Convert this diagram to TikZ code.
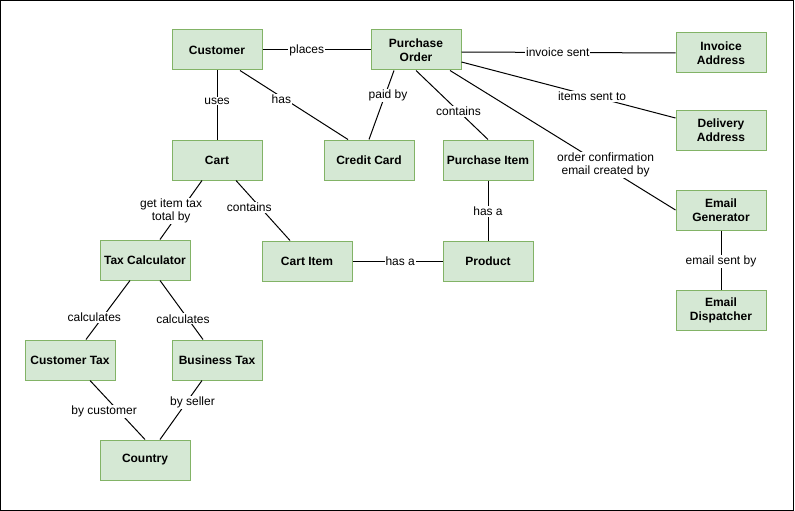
\documentclass[tikz,border=0pt]{standalone}
\usepackage{fontspec}
\setmainfont{Liberation Sans}
\usetikzlibrary{positioning}
\definecolor{boxfill}{HTML}{D5E8D4}
\definecolor{boxline}{HTML}{82B366}
\tikzset{
  entity/.style={draw=boxline, fill=boxfill, line width=1pt,
    minimum width=90pt, minimum height=40pt, inner sep=2pt, align=center,
    font=\fontsize{12}{14}\selectfont\bfseries},
  link/.style={line width=1pt, draw=black},
  rel/.style={fill=white, inner sep=1pt, align=center,
    font=\fontsize{12}{13}\selectfont}
}

\begin{document}
\begin{tikzpicture}[x=1pt,y=-1pt]
        \useasboundingbox (0,0) rectangle (795,511);
        % Frame
        \draw[line width=1pt] (0.5,0.5) rectangle (793.5,510);
        % Entities
        \node[entity] (cust)    at (217,50)  {Customer};
        \node[entity] (po)      at (416,50)  {Purchase\\Order};
        \node[entity] (inv)     at (721,53)  {Invoice\\Address};
        \node[entity] (deliv)   at (721,130) {Delivery\\Address};
        \node[entity] (egen)    at (721,210) {Email\\Generator};
        \node[entity] (edisp)   at (721,310) {Email\\Dispatcher};
        \node[entity] (cart)    at (217,160) {Cart};
        \node[entity] (card)    at (369,160) {Credit Card};
        \node[entity] (pitem)   at (488,160) {Purchase Item};
        \node[entity] (taxcalc) at (145,260) {Tax Calculator};
        \node[entity] (citem)   at (307,261) {Cart Item};
        \node[entity] (prod)    at (488,261) {Product};
        \node[entity] (ctax)    at (70,360)  {Customer Tax};
        \node[entity] (btax)    at (217,360) {Business Tax};
        \node[entity] (country) at (145,460) {Country};
        % Relations from the order
        \draw[link] (cust) -- node[rel,pos=0.41] {places} (po);
        \draw[link] ([yshift=-2pt]po.east) -- node[rel,pos=0.45] {invoice sent} (inv.west);
        \draw[link] ([yshift=-12pt]po.east) -- node[rel,pos=0.61] {items sent to} ([yshift=12pt]deliv.west);
        \draw[link] ([xshift=34pt]po.south) -- node[rel,pos=0.69,yshift=2pt] {order confirmation\\email created by} (egen.west);
        \draw[link] ([xshift=-22pt]po.south) -- node[rel,pos=0.36,xshift=3pt] {paid by} (card.north);
        \draw[link] (po.south) -- node[rel,pos=0.59] {contains} (pitem.north);
        \draw[link] (egen) -- node[rel,pos=0.53] {email sent by} (edisp);
        % Relations from the customer
        \draw[link] (cust) -- node[rel,pos=0.44] {uses} (cart);
        \draw[link] ([xshift=23pt]cust.south) -- node[rel,pos=0.42,xshift=-4pt] {has} ([xshift=-21pt]card.north);
        % Cart and items
        \draw[link] ([xshift=-15pt]cart.south) -- node[rel,pos=0.52,xshift=-9pt] {get item tax\\total by} ([xshift=15pt]taxcalc.north);
        \draw[link] ([xshift=19pt]cart.south) -- node[rel,pos=0.45,xshift=-11pt] {contains} ([xshift=-17pt]citem.north);
        \draw[link] (citem) -- node[rel,pos=0.53] {has a} (prod);
        \draw[link] (pitem) -- node[rel,pos=0.52] {has a} (prod);
        % Taxes
        \draw[link] ([xshift=-15pt]taxcalc.south) -- node[rel,pos=0.63,xshift=-8pt] {calculates} ([xshift=16pt]ctax.north);
        \draw[link] ([xshift=15pt]taxcalc.south) -- node[rel,pos=0.65,xshift=-5pt] {calculates} ([xshift=-14pt]btax.north);
        \draw[link] ([xshift=20pt]ctax.south) -- node[rel,pos=0.53,xshift=-15pt] {by customer} (country.north);
        \draw[link] ([xshift=-15pt]btax.south) -- node[rel,pos=0.37,xshift=6pt] {by seller} ([xshift=15pt]country.north);
    \end{tikzpicture}
\end{document}
